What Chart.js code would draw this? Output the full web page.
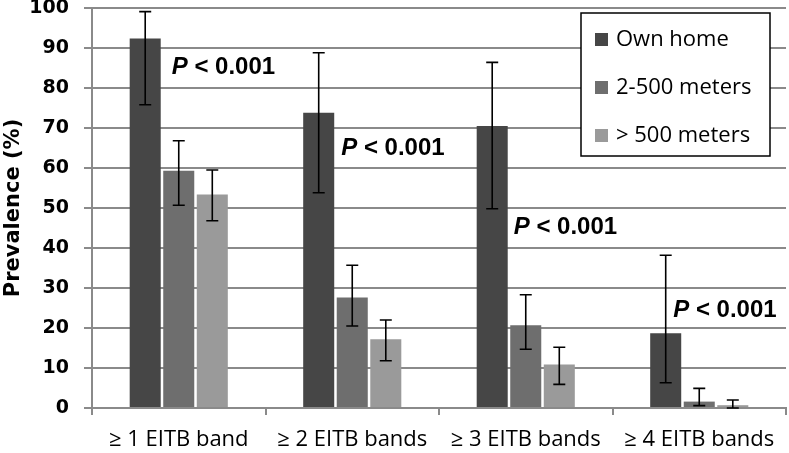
<!DOCTYPE html>
<html>
<head>
<meta charset="utf-8">
<script src="https://cdn.jsdelivr.net/npm/chart.js@4.4.1/dist/chart.umd.min.js"></script>
<style>
html,body{margin:0;padding:0;background:#fff;}
canvas{display:block;}
</style>
</head>
<body>
<canvas id="c" width="789" height="453"></canvas>
<script>
// ---- data ----
const categories = ['\u2265 1 EITB band', '\u2265 2 EITB bands', '\u2265 3 EITB bands', '\u2265 4 EITB bands'];
const seriesNames = ['Own home', '2-500 meters', '> 500 meters'];
const ownHome    = [92.4, 73.8, 70.5, 18.7];
const near500    = [59.3, 27.6, 20.7, 1.6];
const beyond500  = [53.4, 17.2, 10.9, 0.7];
const ownHomeLo  = [75.8, 53.8, 49.8, 6.3];
const ownHomeHi  = [99.1, 88.8, 86.4, 38.2];
const near500Lo  = [50.7, 20.5, 14.7, 0.6];
const near500Hi  = [66.8, 35.7, 28.3, 4.9];
const beyond500Lo= [46.8, 11.8, 5.9, 0.0];
const beyond500Hi= [59.5, 22.0, 15.2, 2.0];
const pLabels    = ['P < 0.001', 'P < 0.001', 'P < 0.001', 'P < 0.001'];
const pLabelY    = [85.2, 65.0, 45.2, 24.5];
const yTicks     = [0,10,20,30,40,50,60,70,80,90,100];

const colors = ['#464646', '#6e6e6e', '#9a9a9a'];
const errLo = [ownHomeLo, near500Lo, beyond500Lo];
const errHi = [ownHomeHi, near500Hi, beyond500Hi];

const errorBars = {
  id: 'errorBars',
  afterDatasetsDraw(chart) {
    const ctx = chart.ctx, y = chart.scales.y;
    ctx.save();
    ctx.strokeStyle = '#000';
    ctx.lineWidth = 1.6;
    chart.data.datasets.forEach((ds, di) => {
      const meta = chart.getDatasetMeta(di);
      meta.data.forEach((bar, i) => {
        const x = bar.x;
        const yl = y.getPixelForValue(errLo[di][i]);
        const yh = y.getPixelForValue(errHi[di][i]);
        const cap = 6;
        ctx.beginPath();
        ctx.moveTo(x, yl); ctx.lineTo(x, yh);
        ctx.moveTo(x - cap, yl); ctx.lineTo(x + cap, yl);
        ctx.moveTo(x - cap, yh); ctx.lineTo(x + cap, yh);
        ctx.stroke();
      });
    });
    ctx.restore();
  }
};

const pLabelPlugin = {
  id: 'pLabels',
  afterDatasetsDraw(chart) {
    const ctx = chart.ctx, y = chart.scales.y;
    const meta = chart.getDatasetMeta(0);
    const offs = [11, 7, 6, -8];
    ctx.save();
    ctx.fillStyle = '#000';
    ctx.textBaseline = 'middle';
    pLabels.forEach((t, i) => {
      const bar = meta.data[i];
      let x = bar.x + bar.width / 2 + offs[i];
      const yy = y.getPixelForValue(pLabelY[i]);
      const parts = t.split(' ');
      ctx.font = 'italic bold 24px "Liberation Sans", Arial, sans-serif';
      ctx.fillText(parts[0], x, yy);
      x += ctx.measureText(parts[0] + ' ').width;
      ctx.font = 'bold 24px "Liberation Sans", Arial, sans-serif';
      ctx.fillText(parts.slice(1).join(' '), x, yy);
    });
    ctx.restore();
  }
};

const legendBox = {
  id: 'legendBox',
  afterDraw(chart) {
    const ctx = chart.ctx;
    const bx = 581, by = 13, bw = 189, bh = 143;
    ctx.save();
    ctx.fillStyle = '#fff';
    ctx.fillRect(bx, by, bw, bh);
    ctx.strokeStyle = '#000';
    ctx.lineWidth = 1.5;
    ctx.strokeRect(bx, by, bw, bh);
    ctx.font = '22px "Open Sans", Lato, sans-serif';
    ctx.textBaseline = 'middle';
    chart.data.datasets.forEach((ds, i) => {
      const cy = by + 27 + i * 48;
      ctx.fillStyle = ds.backgroundColor;
      ctx.fillRect(bx + 14, cy - 7, 13, 13);
      ctx.fillStyle = '#000';
      ctx.fillText(ds.label, bx + 35, cy);
    });
    ctx.restore();
  }
};

new Chart(document.getElementById('c'), {
  type: 'bar',
  data: {
    labels: categories,
    datasets: [
      { label: seriesNames[0], data: ownHome,   backgroundColor: colors[0] },
      { label: seriesNames[1], data: near500,   backgroundColor: colors[1] },
      { label: seriesNames[2], data: beyond500, backgroundColor: colors[2] }
    ]
  },
  options: {
    responsive: false,
    animation: false,
    events: [],
    layout: { padding: { top: 8, right: 3, left: 0, bottom: 0 } },
    datasets: { bar: { categoryPercentage: 0.58, barPercentage: 0.925 } },
    plugins: { legend: { display: false }, tooltip: { enabled: false } },
    scales: {
      x: {
        grid: { display: true, drawOnChartArea: false, drawTicks: true, tickLength: 7, color: '#8a8a8a', lineWidth: 2, offset: true },
        border: { display: true, color: '#8a8a8a', width: 2 },
        ticks: { color: '#000', font: { family: '"Open Sans", Lato, sans-serif', size: 22 }, padding: 12, maxRotation: 0 },
        afterFit(s) { s.height = 45; s.paddingLeft = 0; s.paddingRight = 0; }
      },
      y: {
        min: 0, max: 100,
        afterBuildTicks(s) { s.ticks = yTicks.map(v => ({ value: v })); },
        grid: { color: '#8a8a8a', lineWidth: 2, tickLength: 8, drawTicks: true },
        border: { display: true, color: '#8a8a8a', width: 2 },
        ticks: { color: '#000', font: { family: '"DejaVu Sans", sans-serif', weight: 'bold', size: 19 }, padding: 15 },
        title: { display: true, text: 'Prevalence (%)', color: '#000', font: { family: '"DejaVu Sans", sans-serif', weight: 'bold', size: 21 }, padding: { top: 1, bottom: 0 } },
        afterFit(s) { s.width = 92; s.paddingTop = 0; s.paddingBottom = 0; }
      }
    }
  },
  plugins: [errorBars, pLabelPlugin, legendBox]
});
</script>
</body>
</html>
